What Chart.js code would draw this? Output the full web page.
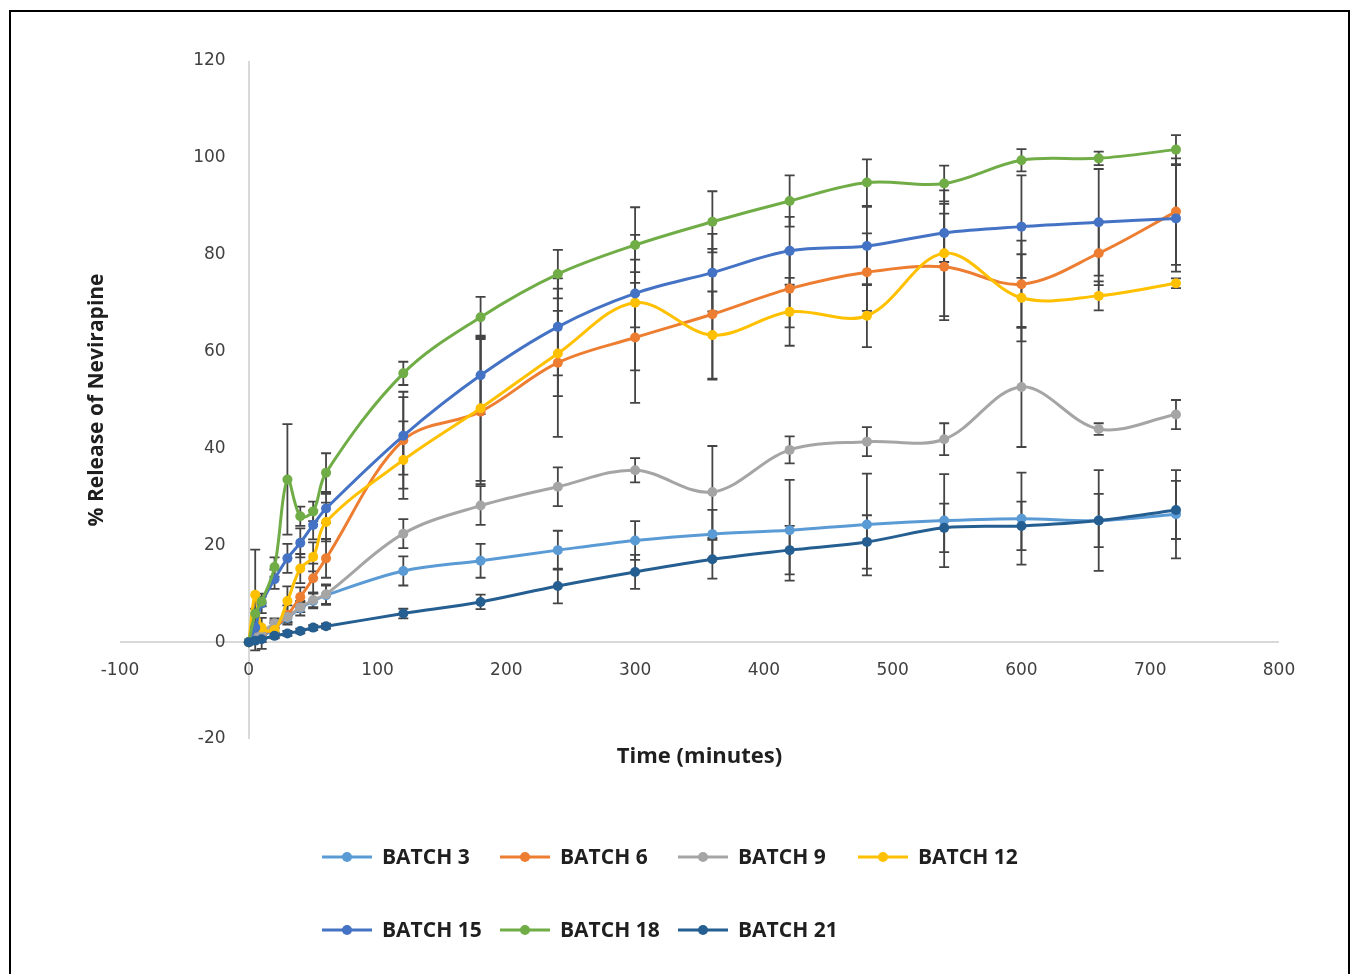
<!DOCTYPE html>
<html>
<head>
<meta charset="utf-8">
<script src="https://cdn.jsdelivr.net/npm/chart.js@4/dist/chart.umd.min.js"></script>
<style>
  html, body { margin: 0; padding: 0; background: #ffffff; }
  #wrap { position: absolute; left: 0; top: 0; width: 1361px; height: 974px; }
  #frame { position: absolute; left: 9px; top: 10px; width: 1337px; height: 990px; border: 2px solid #000; pointer-events: none; }
</style>
</head>
<body>
<div id="wrap"><canvas id="c"></canvas></div>
<div id="frame"></div>
<script>
// ---------------- data ----------------
const times = [0, 5, 10, 20, 30, 40, 50, 60, 120, 180, 240, 300, 360, 420, 480, 540, 600, 660, 720];
const seriesNames = ['BATCH 3', 'BATCH 6', 'BATCH 9', 'BATCH 12', 'BATCH 15', 'BATCH 18', 'BATCH 21'];

const batch3  = [0, 0.5, 1, 3, 5, 7, 8.5, 9.7, 14.7, 16.8, 19.0, 21.0, 22.3, 23.1, 24.3, 25.1, 25.5, 25.1, 26.4];
const batch6  = [0, 0.5, 1.5, 3, 5.6, 9.3, 13.2, 17.3, 41.7, 47.6, 57.7, 62.9, 67.7, 73.0, 76.4, 77.5, 73.9, 80.3, 88.9];
const batch9  = [0, 1, 2, 3.9, 5.2, 7.2, 8.7, 9.9, 22.4, 28.2, 32.1, 35.5, 31.0, 39.7, 41.4, 41.9, 52.7, 44.0, 47.0];
const batch12 = [0, 9.8, 3, 2.5, 8.5, 15.2, 17.6, 24.8, 37.6, 48.3, 59.6, 70.1, 63.4, 68.2, 67.4, 80.3, 71.1, 71.5, 74.1];
const batch15 = [0, 3, 8, 13, 17.3, 20.5, 24.2, 27.6, 42.6, 55.1, 65.1, 72.0, 76.3, 80.8, 81.8, 84.5, 85.8, 86.7, 87.5];
const batch18 = [0, 5.9, 8.4, 15.5, 33.6, 26.0, 27.0, 35.0, 55.5, 67.1, 76.0, 82.0, 86.8, 91.1, 94.9, 94.7, 99.5, 99.9, 101.7];
const batch21 = [0, 0.3, 0.6, 1.3, 1.8, 2.3, 3.0, 3.3, 5.9, 8.3, 11.6, 14.5, 17.1, 19.0, 20.7, 23.6, 24.0, 25.1, 27.3];

// standard deviations (error bars)
const err3  = [0, 0.5, 1, 1, 1, 1.5, 1.5, 2, 3, 3.5, 4, 4, 5, 10.4, 10.5, 9.6, 9.5, 10.4, 9.1];
const err6  = [0, 0.5, 1, 1.5, 2, 2, 3, 4, 10, 15, 15.3, 13.5, 13.5, 8, 8, 11, 9, 6.6, 11];
const err9  = [0, 0.5, 0.5, 1, 1, 1, 1.5, 2, 3, 4, 4, 2.5, 9.5, 2.8, 3, 3.3, 12.4, 1.2, 3];
const err12 = [0, 9.3, 2, 1.5, 3, 3, 3, 4, 8, 15, 8.8, 14, 9, 7, 6.5, 13, 9, 3, 1];
const err15 = [0, 1, 2, 2, 3, 3, 3, 3, 8, 8, 10, 7, 8, 7, 8.1, 6, 10.6, 11, 11];
const err18 = [0, 1, 1, 2, 11.4, 2, 2, 4, 2.4, 4.2, 5, 7.8, 6.3, 5.3, 4.8, 3.7, 2.3, 1.4, 3];
const err21 = [0, 2, 2, 0.5, 0.5, 0.5, 0.5, 0.5, 1, 1.5, 3.6, 3.5, 4, 5, 5.5, 5, 5, 5.5, 6];

const xTickValues = [-100, 0, 100, 200, 300, 400, 500, 600, 700, 800];
const yTickValues = [-20, 0, 20, 40, 60, 80, 100, 120];

const xTitle = 'Time (minutes)';
const yTitle = '% Release of Nevirapine';

// ---------------- styles ----------------
const colors = ['#5B9BD5', '#ED7D31', '#A5A5A5', '#FFC000', '#4472C4', '#70AD47', '#255E91'];
const seriesValues = [batch3, batch6, batch9, batch12, batch15, batch18, batch21];
const seriesErrors = [err3, err6, err9, err12, err15, err18, err21];

const FONT = '"Open Sans", "Liberation Sans", sans-serif';
const TICK_FONT = '"DejaVu Sans", "Open Sans", sans-serif';
const TARGET_AREA = { left: 120, right: 1279, top: 61, bottom: 739 };
const LEGEND_COLS = [322, 500, 678, 858];
const LEGEND_ROWS = [857, 930];
const LEGEND_PER_ROW = 4;

const datasets = seriesNames.map((name, i) => ({
  label: name,
  data: times.map((t, j) => ({ x: t, y: seriesValues[i][j] })),
  errorBars: seriesErrors[i],
  borderColor: colors[i],
  backgroundColor: colors[i],
  pointBackgroundColor: colors[i],
  pointBorderColor: colors[i],
  pointRadius: 5,
  pointBorderWidth: 0,
  borderWidth: 3,
  tension: 0.35,
  fill: false,
  order: seriesNames.length - i
}));

// error bars drawn through the scales
const errorBarPlugin = {
  id: 'errorBars',
  beforeDatasetsDraw(chart) {
    const { ctx, scales } = chart;
    const xs = scales.x, ys = scales.y;
    ctx.save();
    ctx.strokeStyle = '#444444';
    ctx.lineWidth = 1.8;
    chart.data.datasets.forEach(ds => {
      ds.data.forEach((p, j) => {
        const e = ds.errorBars[j];
        if (!e) return;
        const px = xs.getPixelForValue(p.x);
        const top = ys.getPixelForValue(p.y + e);
        const bot = ys.getPixelForValue(p.y - e);
        ctx.beginPath();
        ctx.moveTo(px, top); ctx.lineTo(px, bot);
        ctx.moveTo(px - 5, top); ctx.lineTo(px + 5, top);
        ctx.moveTo(px - 5, bot); ctx.lineTo(px + 5, bot);
        ctx.stroke();
      });
    });
    ctx.restore();
  }
};

// legend laid out on a grid like the original
const gridLegendPlugin = {
  id: 'gridLegend',
  afterDraw(chart) {
    const { ctx } = chart;
    ctx.save();
    chart.data.datasets.forEach((ds, i) => {
      const col = i % LEGEND_PER_ROW, row = Math.floor(i / LEGEND_PER_ROW);
      const x0 = LEGEND_COLS[col], yc = LEGEND_ROWS[row];
      ctx.strokeStyle = ds.borderColor;
      ctx.lineWidth = 3;
      ctx.beginPath(); ctx.moveTo(x0, yc); ctx.lineTo(x0 + 50, yc); ctx.stroke();
      ctx.fillStyle = ds.borderColor;
      ctx.beginPath(); ctx.arc(x0 + 25, yc, 5, 0, Math.PI * 2); ctx.fill();
      ctx.font = 'bold 21px ' + FONT;
      ctx.fillStyle = '#1f1f1f';
      ctx.textAlign = 'left';
      ctx.textBaseline = 'middle';
      ctx.fillText(ds.label, x0 + 60, yc + 1);
    });
    ctx.restore();
  }
};

const axisLineColor = c => (c.tick && c.tick.value === 0 ? '#d9d9d9' : 'rgba(0,0,0,0)');

const pad = { left: 80, right: 40, top: 61, bottom: 160 };

const cfg = {
  type: 'line',
  data: { datasets },
  options: {
    responsive: true,
    maintainAspectRatio: false,
    animation: false,
    layout: { padding: { ...pad } },
    plugins: {
      legend: { display: false },
      tooltip: { enabled: false },
      title: { display: false }
    },
    scales: {
      x: {
        type: 'linear',
        position: { y: 0 },
        min: -100, max: 800,
        afterBuildTicks: s => { s.ticks = xTickValues.map(v => ({ value: v })); },
        grid: { display: true, drawTicks: false, color: axisLineColor, lineWidth: 2 },
        border: { display: false },
        ticks: { padding: 18, color: '#404040', font: { family: TICK_FONT, size: 17 } }
      },
      y: {
        type: 'linear',
        position: { x: -18 },
        min: -20, max: 120,
        afterBuildTicks: s => { s.ticks = yTickValues.map(v => ({ value: v })); },
        grid: { display: true, drawTicks: false, color: axisLineColor, lineWidth: 2 },
        border: { display: false },
        ticks: { padding: 0, color: '#404040', font: { family: TICK_FONT, size: 17 } }
      },
      yTitleAxis: {
        type: 'linear',
        axis: 'y',
        position: 'left',
        display: true,
        ticks: { display: false },
        grid: { display: false, drawTicks: false },
        border: { display: false },
        title: {
          display: true, text: yTitle, color: '#1f1f1f',
          font: { family: FONT, size: 21, weight: 'bold' },
          padding: { top: 0, bottom: 10 }
        }
      },
      xTitleAxis: {
        type: 'linear',
        axis: 'x',
        position: 'bottom',
        display: true,
        ticks: { display: false },
        grid: { display: false, drawTicks: false },
        border: { display: false },
        title: {
          display: true, text: xTitle, color: '#1f1f1f',
          font: { family: FONT, size: 22, weight: 'bold' },
          padding: { top: 5, bottom: 4 }
        }
      }
    }
  },
  plugins: [errorBarPlugin, gridLegendPlugin]
};

const chart = new Chart(document.getElementById('c'), cfg);
// fit the plot area to the original frame
for (let k = 0; k < 3; k++) {
  const ca = chart.chartArea;
  pad.left += TARGET_AREA.left - ca.left;
  pad.right += ca.right - TARGET_AREA.right;
  pad.top += TARGET_AREA.top - ca.top;
  pad.bottom += ca.bottom - TARGET_AREA.bottom;
  chart.options.layout.padding = { ...pad };
  chart.update('none');
}
</script>
</body>
</html>
